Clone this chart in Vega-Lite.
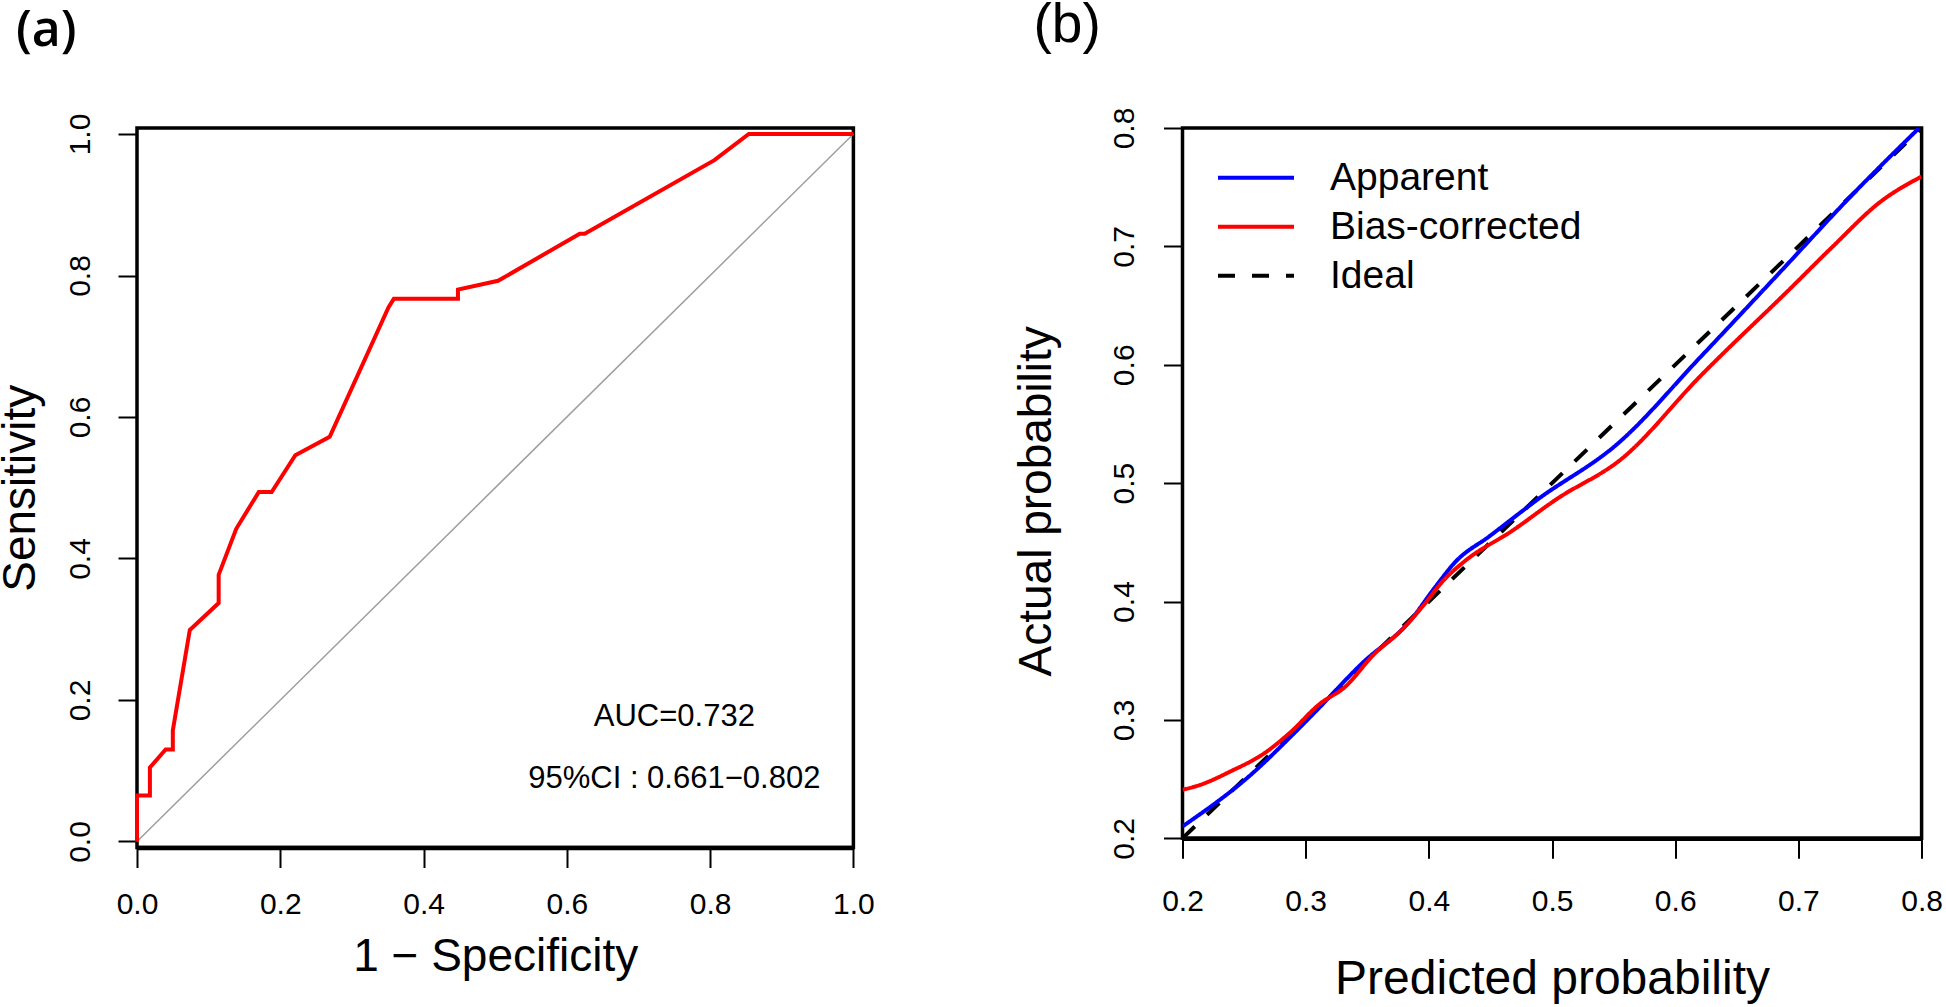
{
  "$schema": "https://vega.github.io/schema/vega-lite/v6.json",
  "background": "white",
  "padding": {"left": -5, "top": -4, "right": 0, "bottom": 0},
  "spacing": 134.5,
  "config": {
    "font": "Liberation Sans",
    "view": {"stroke": "black", "strokeWidth": 3.5},
    "axis": {
      "grid": false,
      "labelFont": "Liberation Sans",
      "labelFontSize": 30,
      "labelColor": "black",
      "labelFlush": false,
      "labelOverlap": false,
      "tickColor": "black",
      "tickWidth": 2,
      "titleFont": "Liberation Sans",
      "titleFontWeight": "normal",
      "titleColor": "black",
      "titleBaseline": "alphabetic"
    }
  },
  "hconcat": [
    {
      "width": 716.4,
      "height": 719.5,
      "title": {"text": "(a)", "anchor": "start", "frame": "group", "font": "Open Sans", "fontWeight": 600, "fontSize": 50, "dx": -121, "baseline": "alphabetic", "offset": 17, "color": "black"},
      "layer": [
        {
          "data": {"values": [{"x": 0, "y": 0}, {"x": 1, "y": 1}]},
          "mark": {"type": "line", "color": "#9E9E9E", "strokeWidth": 1.5},
          "encoding": {
            "x": {"field": "x", "type": "quantitative", "scale": {"domain": [0, 1], "nice": false, "zero": false},
              "axis": {"values": [0, 0.2, 0.4, 0.6, 0.8, 1], "format": ".1f", "tickSize": 20, "labelPadding": 45.5, "labelBaseline": "alphabetic", "domain": true, "domainColor": "black", "domainWidth": 4.5, "title": "1 − Specificity", "titleFontSize": 46, "titleY": 123}},
            "y": {"field": "y", "type": "quantitative", "scale": {"domain": [-0.0085, 1.0085], "nice": false, "zero": false},
              "axis": {"values": [0, 0.2, 0.4, 0.6, 0.8, 1], "format": ".1f", "tickSize": 19, "labelAngle": 270, "labelAlign": "center", "labelBaseline": "alphabetic", "labelPadding": 29, "domain": false, "title": "Sensitivity", "titleFontSize": 46, "titleAngle": 270, "titleX": -102.8}}
          }
        },
        {
          "data": {"values": [
            {"i": 0, "fpr": 0, "tpr": 0},
            {"i": 1, "fpr": 0, "tpr": 0.065},
            {"i": 2, "fpr": 0.018, "tpr": 0.065},
            {"i": 3, "fpr": 0.018, "tpr": 0.1045},
            {"i": 4, "fpr": 0.040, "tpr": 0.130},
            {"i": 5, "fpr": 0.050, "tpr": 0.130},
            {"i": 6, "fpr": 0.050, "tpr": 0.157},
            {"i": 7, "fpr": 0.0737, "tpr": 0.299},
            {"i": 8, "fpr": 0.114, "tpr": 0.337},
            {"i": 9, "fpr": 0.114, "tpr": 0.377},
            {"i": 10, "fpr": 0.1385, "tpr": 0.442},
            {"i": 11, "fpr": 0.170, "tpr": 0.494},
            {"i": 12, "fpr": 0.188, "tpr": 0.494},
            {"i": 13, "fpr": 0.221, "tpr": 0.546},
            {"i": 14, "fpr": 0.269, "tpr": 0.572},
            {"i": 15, "fpr": 0.351, "tpr": 0.755},
            {"i": 16, "fpr": 0.3585, "tpr": 0.767},
            {"i": 17, "fpr": 0.448, "tpr": 0.767},
            {"i": 18, "fpr": 0.448, "tpr": 0.780},
            {"i": 19, "fpr": 0.504, "tpr": 0.7925},
            {"i": 20, "fpr": 0.618, "tpr": 0.859},
            {"i": 21, "fpr": 0.625, "tpr": 0.859},
            {"i": 22, "fpr": 0.806, "tpr": 0.963},
            {"i": 23, "fpr": 0.854, "tpr": 1.0},
            {"i": 24, "fpr": 1.0, "tpr": 1.0}
          ]},
          "mark": {"type": "line", "color": "#FF0000", "strokeWidth": 4},
          "encoding": {
            "x": {"field": "fpr", "type": "quantitative"},
            "y": {"field": "tpr", "type": "quantitative"},
            "order": {"field": "i", "type": "quantitative"}
          }
        },
        {
          "data": {"values": [
            {"tx": 0.75, "ty": 0.1634, "label": "AUC=0.732"},
            {"tx": 0.75, "ty": 0.0753, "label": "95%CI : 0.661−0.802"}
          ]},
          "mark": {"type": "text", "fontSize": 31, "font": "Liberation Sans", "align": "center", "baseline": "alphabetic", "color": "black"},
          "encoding": {
            "x": {"field": "tx", "type": "quantitative"},
            "y": {"field": "ty", "type": "quantitative"},
            "text": {"field": "label"}
          }
        }
      ]
    },
    {
      "width": 739.1,
      "height": 710.3,
      "title": {"text": "(b)", "anchor": "start", "frame": "group", "font": "Liberation Sans", "fontWeight": "normal", "fontSize": 55, "dx": -149, "baseline": "alphabetic", "offset": 10, "color": "black"},
      "data": {"values": [
        {"series": "Ideal", "x": 0.2, "y": 0.2},
        {"series": "Ideal", "x": 0.8, "y": 0.8},
        {"series": "Apparent", "x": 0.200, "y": 0.210},
        {"series": "Apparent", "x": 0.258, "y": 0.256},
        {"series": "Apparent", "x": 0.287, "y": 0.285},
        {"series": "Apparent", "x": 0.307, "y": 0.306},
        {"series": "Apparent", "x": 0.346, "y": 0.348},
        {"series": "Apparent", "x": 0.385, "y": 0.384},
        {"series": "Apparent", "x": 0.405, "y": 0.412},
        {"series": "Apparent", "x": 0.422, "y": 0.434},
        {"series": "Apparent", "x": 0.449, "y": 0.455},
        {"series": "Apparent", "x": 0.488, "y": 0.486},
        {"series": "Apparent", "x": 0.554, "y": 0.534},
        {"series": "Apparent", "x": 0.620, "y": 0.606},
        {"series": "Apparent", "x": 0.684, "y": 0.677},
        {"series": "Apparent", "x": 0.745, "y": 0.745},
        {"series": "Apparent", "x": 0.798, "y": 0.800},
        {"series": "Bias-corrected", "x": 0.200, "y": 0.241},
        {"series": "Bias-corrected", "x": 0.214, "y": 0.245},
        {"series": "Bias-corrected", "x": 0.238, "y": 0.256},
        {"series": "Bias-corrected", "x": 0.268, "y": 0.273},
        {"series": "Bias-corrected", "x": 0.287, "y": 0.289},
        {"series": "Bias-corrected", "x": 0.312, "y": 0.314},
        {"series": "Bias-corrected", "x": 0.331, "y": 0.327},
        {"series": "Bias-corrected", "x": 0.356, "y": 0.356},
        {"series": "Bias-corrected", "x": 0.378, "y": 0.376},
        {"series": "Bias-corrected", "x": 0.395, "y": 0.396},
        {"series": "Bias-corrected", "x": 0.412, "y": 0.418},
        {"series": "Bias-corrected", "x": 0.429, "y": 0.434},
        {"series": "Bias-corrected", "x": 0.468, "y": 0.460},
        {"series": "Bias-corrected", "x": 0.503, "y": 0.486},
        {"series": "Bias-corrected", "x": 0.557, "y": 0.521},
        {"series": "Bias-corrected", "x": 0.620, "y": 0.590},
        {"series": "Bias-corrected", "x": 0.694, "y": 0.665},
        {"series": "Bias-corrected", "x": 0.728, "y": 0.700},
        {"series": "Bias-corrected", "x": 0.767, "y": 0.738},
        {"series": "Bias-corrected", "x": 0.800, "y": 0.759}
      ]},
      "mark": {"type": "line", "strokeWidth": 4, "interpolate": "monotone", "clip": true},
      "encoding": {
        "x": {"field": "x", "type": "quantitative", "scale": {"domain": [0.2, 0.8], "nice": false, "zero": false},
          "axis": {"values": [0.2, 0.3, 0.4, 0.5, 0.6, 0.7, 0.8], "format": ".1f", "tickSize": 20, "labelPadding": 51.7, "labelBaseline": "alphabetic", "domain": true, "domainColor": "black", "domainWidth": 4.5, "title": "Predicted probability", "titleFontSize": 48, "titleY": 154.7}},
        "y": {"field": "y", "type": "quantitative", "scale": {"domain": [0.2, 0.8], "nice": false, "zero": false},
          "axis": {"values": [0.2, 0.3, 0.4, 0.5, 0.6, 0.7, 0.8], "format": ".1f", "tickSize": 19, "labelAngle": 270, "labelAlign": "center", "labelBaseline": "alphabetic", "labelPadding": 30, "domain": false, "title": "Actual probability", "titleFontSize": 46, "titleAngle": 270, "titleX": -132, "titleY": 372.8}},
        "color": {"field": "series", "type": "nominal",
          "scale": {"domain": ["Apparent", "Bias-corrected", "Ideal"], "range": ["#0000FF", "#FF0000", "#000000"]},
          "legend": {"orient": "none", "legendX": 1098, "legendY": 28.8, "title": null, "symbolType": "M-2,0H2", "symbolSize": 1444, "symbolStrokeWidth": 4, "labelFontSize": 39, "labelFont": "Liberation Sans", "labelColor": "black", "labelOffset": 53, "labelLimit": 0, "rowPadding": 8, "padding": 0}},
        "strokeDash": {"field": "series", "type": "nominal",
          "scale": {"domain": ["Apparent", "Bias-corrected", "Ideal"], "range": [[1, 0], [1, 0], [17, 17]]},
          "legend": {"orient": "none", "legendX": 1098, "legendY": 28.8, "title": null, "symbolType": "M-2,0H2", "symbolSize": 1444, "symbolStrokeWidth": 4, "labelFontSize": 39, "labelFont": "Liberation Sans", "labelColor": "black", "labelOffset": 53, "labelLimit": 0, "rowPadding": 8, "padding": 0}},
        "order": {"field": "x", "type": "quantitative"}
      }
    }
  ]
}
